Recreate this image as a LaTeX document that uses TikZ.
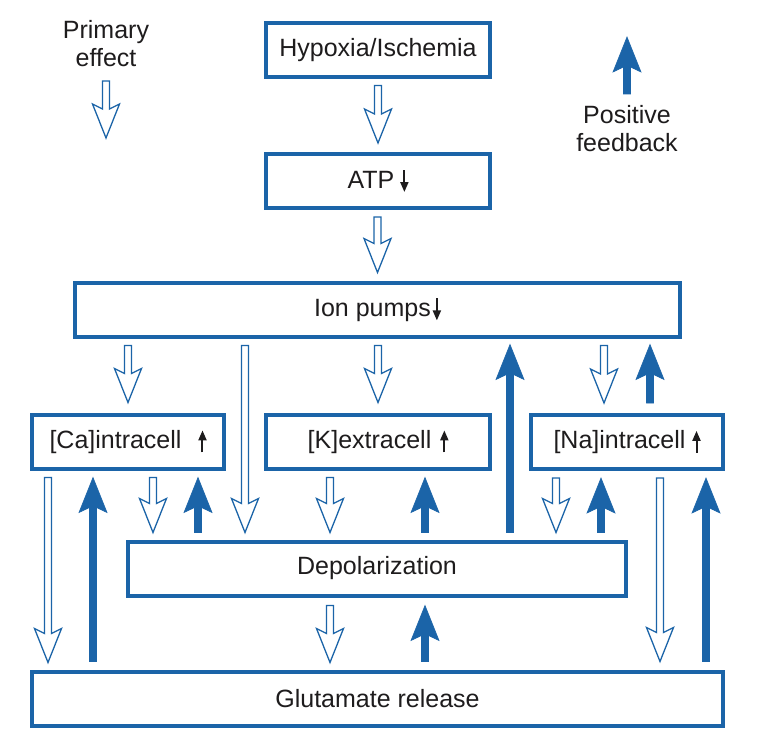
\documentclass[tikz,border=0pt]{standalone}
\usepackage{fontspec}
\setmainfont{Liberation Sans}
\usetikzlibrary{calc,arrows.meta}
\definecolor{myblue}{HTML}{1B64A8}
\definecolor{txt}{HTML}{1E1C1D}
\tikzset{
  box/.style={draw=myblue, line width=4pt, fill=white, minimum height=54pt,
    inner sep=0pt, text=txt, font=\fontsize{25}{28}\selectfont},
  legend/.style={text=txt, align=center, inner sep=0pt, font=\fontsize{25}{28}\selectfont},
  openarrow/.style={draw=myblue, line width=1.3pt, fill=white, line join=miter},
  fillarrow/.style={fill=myblue, draw=myblue, line width=0.6pt, line join=miter}
}
% hollow arrow pointing down: #1 tail, #2 tip
\newcommand\openarr[2]{\path[openarrow] let \p1=#1, \p2=#2 in
  (\x2-3.5pt,\y1) -- (\x2-3.5pt,\y2+29pt) -- (\x2-13.5pt,\y2+34pt) -- (\x2,\y2)
  -- (\x2+13.5pt,\y2+34pt) -- (\x2+3.5pt,\y2+29pt) -- (\x2+3.5pt,\y1) -- cycle;}
% filled arrow pointing up: #1 tail, #2 tip
\newcommand\fillarr[2]{\path[fillarrow] let \p1=#1, \p2=#2 in
  (\x2-3.5pt,\y1) -- (\x2-3.5pt,\y2-30pt) -- (\x2-14pt,\y2-35pt) -- (\x2,\y2)
  -- (\x2+14pt,\y2-35pt) -- (\x2+3.5pt,\y2-30pt) -- (\x2+3.5pt,\y1) -- cycle;}
\newcommand\dnarr{\tikz[baseline=0pt]\draw[line width=2pt, txt, -{Triangle[length=10pt,width=8pt]}] (0pt,18pt) -- (0pt,-4pt);}
\newcommand\uparr{\tikz[baseline=0pt]\draw[line width=2pt, txt, -{Triangle[length=10pt,width=8pt]}] (0pt,-4pt) -- (0pt,18pt);}
\begin{document}
\begin{tikzpicture}[x=1pt,y=-1pt]
\useasboundingbox[fill=white] (0,0) rectangle (768,741);
% boxes
\node[box, minimum width=224pt] (hyp) at (378,50.5) {Hypoxia/Ischemia};
\node[box, minimum width=224pt] (atp) at (378,181) {ATP\hspace{6pt}\dnarr};
\node[box, minimum width=605pt] (ion) at (377.5,309.5) {Ion pumps\hspace{2pt}\dnarr};
\node[box, minimum width=192pt] (ca) at (128,441.5) {[Ca]intracell\hspace{17pt}\uparr};
\node[box, minimum width=224pt] (k) at (378,441.5) {[K]extracell\hspace{9pt}\uparr};
\node[box, minimum width=192pt] (na) at (627,442) {[Na]intracell\hspace{7pt}\uparr};
\node[box, minimum width=498pt] (depol) at (377,568.5) {Depolarization};
\node[box, minimum width=691pt] (glut) at (377.5,698.5) {Glutamate release};
% legend
\node[legend] (pe) at (106,44) {Primary\\effect};
\node[legend] (pf) at (627,128.5) {Positive\\feedback};
\coordinate (peTail) at (106,81);
\coordinate (peTip) at (106,138);
\coordinate (pfTail) at (627,94);
\coordinate (pfTip) at (627,37);
\openarr{(peTail)}{(peTip)}
\fillarr{(pfTail)}{(pfTip)}
% primary effects (hollow, down)
\openarr{($(hyp.south)+(0,6)$)}{($(atp.north)+(0,-9)$)}
\openarr{($(atp.south)+(0,7)$)}{($(ion.north)+(0,-8)$)}
\openarr{($(ion.south -| ca.north)+(0,7)$)}{($(ca.north)+(0,-10)$)}
\openarr{($(ion.south -| depol.north)+(-132,7)$)}{($(depol.north)+(-132,-7)$)}
\openarr{($(ion.south -| k.north)+(0,7)$)}{($(k.north)+(0,-10)$)}
\openarr{($(ion.south -| na.north)+(-23,7)$)}{($(na.north)+(-23,-10)$)}
\openarr{($(ca.south)+(-80,7)$)}{($(glut.north -| ca.south)+(-80,-7)$)}
\openarr{($(ca.south)+(25,7)$)}{($(depol.north -| ca.south)+(25,-7)$)}
\openarr{($(k.south)+(-48,7)$)}{($(depol.north -| k.south)+(-48,-7)$)}
\openarr{($(na.south)+(-71,7)$)}{($(depol.north -| na.south)+(-71,-7)$)}
\openarr{($(na.south)+(33,7)$)}{($(glut.north -| na.south)+(33,-8)$)}
\openarr{($(depol.south)+(-47,8)$)}{($(glut.north -| depol.south)+(-47,-7)$)}
% positive feedback (filled, up)
\fillarr{($(depol.north)+(133,-7)$)}{($(ion.south -| depol.north)+(133,6)$)}
\fillarr{($(na.north)+(23,-10)$)}{($(ion.south -| na.north)+(23,6)$)}
\fillarr{($(glut.north -| ca.south)+(-35,-8)$)}{($(ca.south)+(-35,7)$)}
\fillarr{($(depol.north -| ca.south)+(70,-7)$)}{($(ca.south)+(70,7)$)}
\fillarr{($(depol.north -| k.south)+(47,-7)$)}{($(k.south)+(47,7)$)}
\fillarr{($(depol.north -| na.south)+(-26,-7)$)}{($(na.south)+(-26,7)$)}
\fillarr{($(glut.north -| na.south)+(79,-8)$)}{($(na.south)+(79,7)$)}
\fillarr{($(glut.north -| depol.south)+(48,-8)$)}{($(depol.south)+(48,8)$)}
\end{tikzpicture}
\end{document}
